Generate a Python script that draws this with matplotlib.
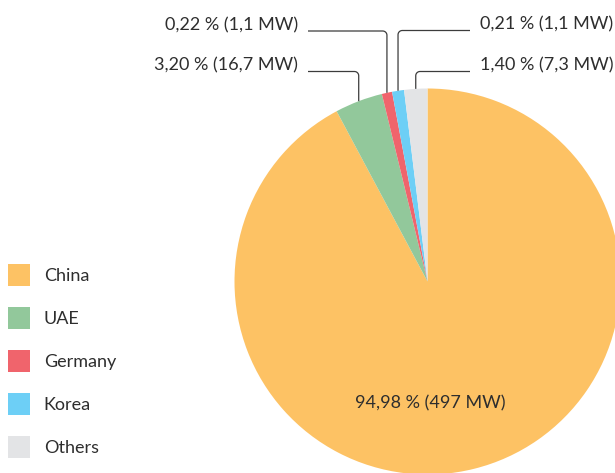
import numpy as np
import matplotlib
matplotlib.use("Agg")
from matplotlib import pyplot as plt
from matplotlib.patches import Patch

plt.rcParams['font.family'] = ['Lato', 'DejaVu Sans']

# data
countries = ["China", "UAE", "Germany", "Korea", "Others"]
share_pct = [94.98, 3.20, 0.22, 0.21, 1.40]
capacity_mw = ["497", "16,7", "1,1", "1,1", "7,3"]
# slice sizes as drawn in the picture (small slices are widened there)
drawn_pct = [92.2, 4.0, 0.86, 1.0, 1.94]
colors = ["#FDC264", "#92C89B", "#F0646C", "#6DCFF6", "#E3E4E6"]

def label_of(i):
    return f"{share_pct[i]:.2f}".replace(".", ",") + f" % ({capacity_mw[i]} MW)"

W, H = 615, 473
cx, cy, R = 427.5, 281.5, 193.0
fs = 13

def px(x, y):
    # pixel position -> data units (pie radius = 1)
    return (x - cx) / R, (cy - y) / R

fig = plt.figure(figsize=(W / 100, H / 100), dpi=100)
ax = fig.add_axes([0, 0, 1, 1])

wedges, _ = ax.pie(drawn_pct, colors=colors, startangle=90, counterclock=False,
                   radius=1, center=(0, 0), frame=True)
ax.set_xlim(-cx / R, (W - cx) / R)
ax.set_ylim(-(H - cy) / R, cy / R)
ax.set_aspect("auto")
ax.axis("off")

text_col = "#2e2e2e"
line_col = "#3c3c3c"

# main label inside China slice
x0, y0 = px(430, 403)
ax.text(x0, y0, label_of(0), ha="center", va="center", fontsize=fs, color=text_col)

# leader lines: (index, line y px, side)
callouts = [(1, 71.5, "left"), (2, 31, "left"), (3, 30.5, "right"), (4, 71.5, "right")]
r = 0.022
for i, ly, side in callouts:
    w = wedges[i]
    mid = np.deg2rad((w.theta1 + w.theta2) / 2)
    ex, ey = np.cos(mid), np.sin(mid)
    _, yl = px(0, ly)
    if side == "left":
        xs, _ = px(308, 0)
        xt, _ = px(298, 0)
        sgn = -1
    else:
        xs, _ = px(470, 0)
        xt, _ = px(480, 0)
        sgn = 1
    t = np.linspace(0, np.pi / 2, 10)
    arc_x = ex + sgn * r * (1 - np.cos(t))
    arc_y = yl - r * (1 - np.sin(t))
    xx = np.concatenate([[ex], arc_x, [xs]])
    yy = np.concatenate([[ey], arc_y, [yl]])
    ax.plot(xx, yy, color=line_col, lw=0.9, solid_capstyle="butt")
    ax.text(xt, yl + 6 / R, label_of(i), ha="right" if side == "left" else "left",
            va="center", fontsize=fs, color=text_col)

handles = [Patch(facecolor=c, edgecolor="none") for c in colors]
leg = fig.legend(handles, countries, loc="upper left", bbox_to_anchor=(0.0, 1 - 256 / H),
                 frameon=False, fontsize=fs, handlelength=1.22, handleheight=1.5,
                 labelspacing=1.16, handletextpad=0.75, borderaxespad=0, borderpad=0.45)
for t in leg.get_texts():
    t.set_color(text_col)

fig.savefig("out.png", dpi=100)
